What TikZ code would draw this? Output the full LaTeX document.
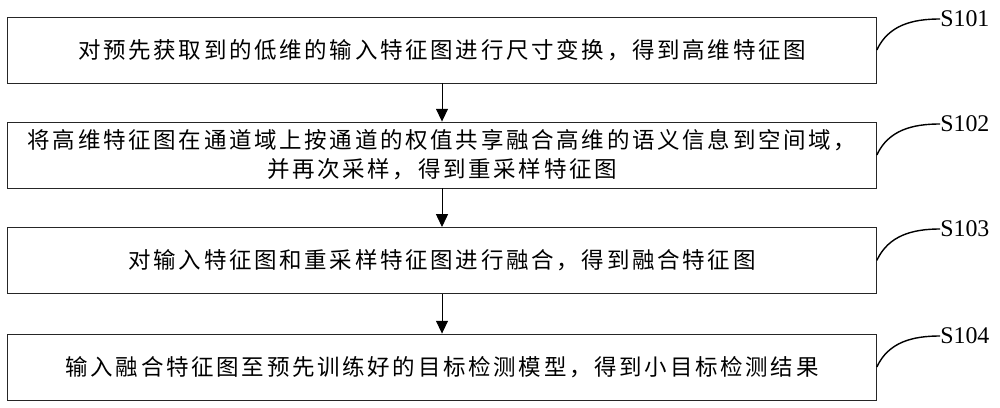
\documentclass[tikz,border=0pt]{standalone}
\usepackage{fontspec}
\newfontfamily\cjkfont[LetterSpace=12]{Noto Sans CJK SC}
\newfontfamily\stepfont{Liberation Serif}
\usetikzlibrary{arrows.meta, positioning}

\begin{document}
\begin{tikzpicture}[
    procbox/.style={draw=black!85, line width=0.6pt, minimum width=21.72cm, minimum height=1.65cm,
        align=center, font=\cjkfont\fontsize{16}{20.5}\selectfont},
    steplabel/.style={anchor=west, inner sep=0pt, font=\stepfont\fontsize{17}{18}\selectfont},
    flow/.style={-{Triangle[length=0.32cm, width=0.3cm]}, line width=0.6pt},
    leader/.style={line width=1pt}
]
\useasboundingbox (0,0) rectangle (25,10.2);

% Process boxes
\node[procbox] (s101) at (11.05,8.95) {对预先获取到的低维的输入特征图进行尺寸变换，得到高维特征图};
\node[procbox] (s102) at (11.05,6.325) {将高维特征图在通道域上按通道的权值共享融合高维的语义信息到空间域，\\并再次采样，得到重采样特征图};
\node[procbox] (s103) at (11.05,3.69) {对输入特征图和重采样特征图进行融合，得到融合特征图};
\node[procbox] (s104) at (11.05,1.025) {输入融合特征图至预先训练好的目标检测模型，得到小目标检测结果};

% Step labels
\node[steplabel] (lab101) at (23.5,9.725) {S101};
\node[steplabel] (lab102) at (23.5,7.1) {S102};
\node[steplabel] (lab103) at (23.5,4.475) {S103};
\node[steplabel] (lab104) at (23.5,1.8) {S104};

% Flow arrows
\draw[flow] (s101) -- (s102);
\draw[flow] (s102) -- (s103);
\draw[flow] (s103) -- (s104);

% Leader curves
\foreach \n in {101,102,103,104} {
    \draw[leader] (s\n.east) to[out=65, in=180] (lab\n.west);
}

\end{tikzpicture}
\end{document}
